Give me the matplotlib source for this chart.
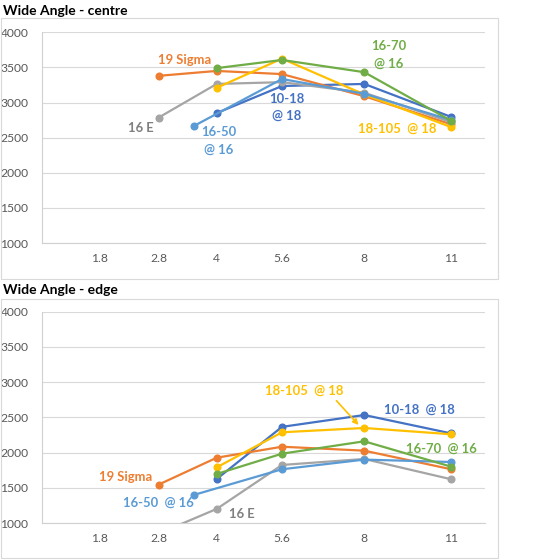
import matplotlib
matplotlib.use("Agg")
import matplotlib.pyplot as plt
import numpy as np
from matplotlib.patches import Rectangle

# f-stops shown on the x axis
tick_stops = [1.8, 2.8, 4, 5.6, 8, 11]

# series names and the f-stops each lens was tested at
series_names = ["10-18 @ 18", "19 Sigma", "16 E", "18-105 @ 18", "16-50 @ 16", "16-70 @ 16"]
stops_1018 = [4, 5.6, 8, 11]
stops_sigma = [2.8, 4, 5.6, 8, 11]
stops_16e = [2.8, 4, 5.6, 8, 11]
stops_18105 = [4, 5.6, 8, 11]
stops_1650 = [3.5, 5.6, 8, 11]
stops_1670 = [4, 5.6, 8, 11]

# resolution, centre of frame
centre_1018 = [2850, 3235, 3265, 2795]
centre_sigma = [3380, 3450, 3405, 3090, 2690]
centre_16e = [2785, 3265, 3290, 3140, 2720]
centre_18105 = [3210, 3625, 3115, 2650]
centre_1650 = [2665, 3335, 3125, 2750]
centre_1670 = [3490, 3606, 3432, 2740]

# resolution, edge of frame
edge_1018 = [1625, 2365, 2533, 2272]
edge_sigma = [1545, 1927, 2083, 2027, 1763]
edge_16e = [850, 1200, 1824, 1909, 1621]
edge_18105 = [1790, 2288, 2349, 2260]
edge_1650 = [1398, 1763, 1900, 1866]
edge_1670 = [1696, 1984, 2160, 1800]

colors = ["#4472C4", "#ED7D31", "#A5A5A5", "#FFC000", "#5B9BD5", "#70AD47"]
stops = [stops_1018, stops_sigma, stops_16e, stops_18105, stops_1650, stops_1670]
centre = [centre_1018, centre_sigma, centre_16e, centre_18105, centre_1650, centre_1670]
edge = [edge_1018, edge_sigma, edge_16e, edge_18105, edge_1650, edge_1670]

plt.rcParams["font.family"] = ["Lato", "DejaVu Sans"]

W, H = 538, 560
fig = plt.figure(figsize=(W / 100, H / 100), dpi=100)


def px_box(x0, y0, x1, y1):
    return [x0 / W, 1 - y1 / H, (x1 - x0) / W, (y1 - y0) / H]


def draw_panel(ax, values, labels):
    for s, v, c in zip(stops, values, colors):
        ax.plot(s, v, color=c, lw=1.6, marker="o", ms=4.8, zorder=3)
    ax.set_xscale("function", functions=(np.sqrt, np.square))
    ax.set_xlim(1.04, 12.28)
    ax.set_ylim(1000, 4000)
    ax.set_xticks(tick_stops)
    ax.set_xticklabels([f"{t:g}" for t in tick_stops])
    ax.set_yticks(np.arange(1000, 4001, 500))
    ax.yaxis.grid(True, color="#d9d9d9", lw=0.8)
    ax.set_axisbelow(True)
    for side in ("top", "right"):
        ax.spines[side].set_visible(False)
    for side in ("left", "bottom"):
        ax.spines[side].set_color("#d0d0d0")
        ax.spines[side].set_linewidth(0.8)
    ax.tick_params(axis="both", length=0, labelsize=8.7, labelcolor="#595959")
    ax.tick_params(axis="y", pad=10)
    ax.tick_params(axis="x", pad=7)
    for text, x, y, c in labels:
        ax.text(x, y, text, color=c, fontsize=9.4, fontweight="bold",
                ha="center", va="center", linespacing=1.5)


# frames and titles
for box in (px_box(0.5, 18.3, 497.7, 279), px_box(0.5, 299, 497.7, 558.3)):
    fig.patches.append(Rectangle((box[0], box[1]), box[2], box[3],
                                 transform=fig.transFigure, fill=False,
                                 ec="#d9d9d9", lw=0.8))
fig.text(3 / W, 1 - 10.7 / H, "Wide Angle - centre", fontsize=10,
         fontweight="bold", va="center", ha="left")
fig.text(3 / W, 1 - 290 / H, "Wide Angle - edge", fontsize=10,
         fontweight="bold", va="center", ha="left")

ax1 = fig.add_axes(px_box(42.2, 32.3, 484.6, 243))
draw_panel(ax1, centre, [
    ("19 Sigma", 3.31, 3606, colors[1]),
    ("16-70\n@ 16", 8.8, 3677, colors[5]),
    ("10-18\n@ 18", 5.73, 2929, colors[0]),
    ("16-50\n@ 16", 4.05, 2453, colors[4]),
    ("16 E", 2.48, 2642, "#7f7f7f"),
    ("18-105  @ 18", 9.07, 2627, colors[3]),
])

ax2 = fig.add_axes(px_box(42.2, 311.7, 484.6, 523))
draw_panel(ax2, edge, [
    ("18-105  @ 18", 6.2, 2874, colors[3]),
    ("10-18  @ 18", 9.85, 2609, colors[0]),
    ("16-70  @ 16", 10.62, 2055, colors[5]),
    ("19 Sigma", 2.22, 1649, colors[1]),
    ("16-50  @ 16", 2.8, 1294, colors[4]),
    ("16 E", 4.59, 1128, "#7f7f7f"),
])
ax2.annotate("", xy=(7.82, 2392), xytext=(7.14, 2737),
             arrowprops=dict(arrowstyle="-|>", color=colors[3], lw=1.2,
                             mutation_scale=8, shrinkA=0, shrinkB=0))

fig.savefig("out.png", dpi=100)
